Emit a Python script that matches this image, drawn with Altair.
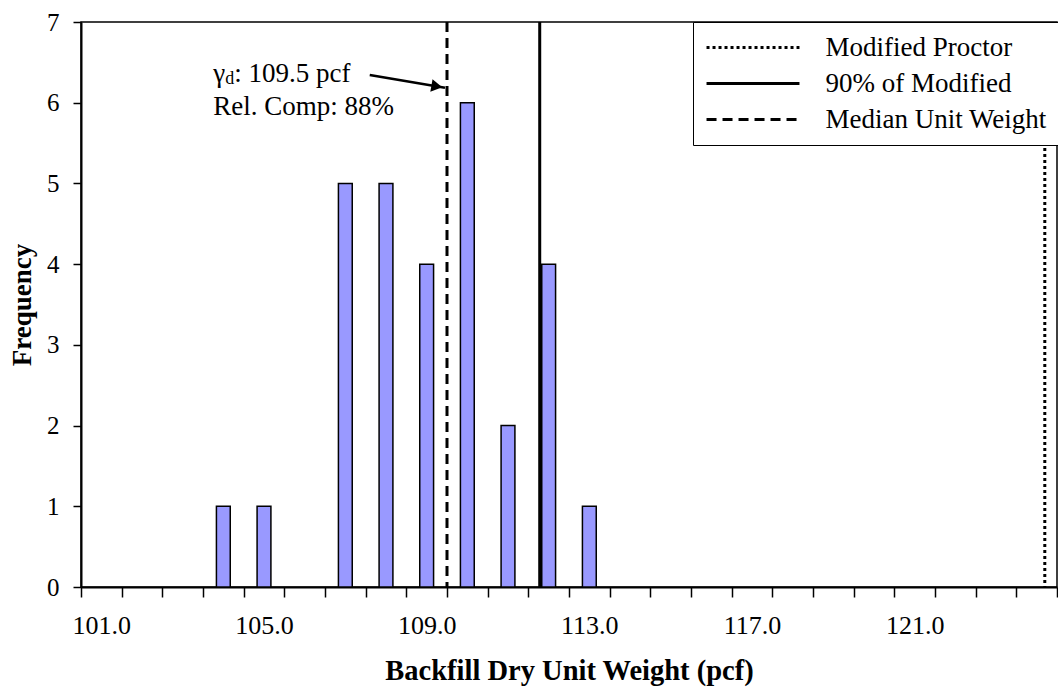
import altair as alt
import pandas as pd

# ---- data ----
bin_centers = [104, 105, 107, 108, 109, 110, 111, 112, 113]
frequencies = [1, 1, 5, 5, 4, 6, 2, 4, 1]
categories = list(range(101, 125))           # 24 category slots on the x axis
x_tick_labels = ["101.0", "105.0", "109.0", "113.0", "117.0", "121.0"]
y_ticks = [0, 1, 2, 3, 4, 5, 6, 7]

ref_names = ["Modified Proctor", "90% of Modified", "Median Unit Weight"]
ref_values = [124.2, 111.78, 109.5]

annot_x = [103.75, 103.75]
annot_y = [6.36, 5.95]
annot_text = [": 109.5 pcf", "Rel. Comp: 88%"]
arrow_x = [107.6, 109.45]
arrow_y = [6.343, 6.185]

FONT = "Liberation Serif"
W, H = 976, 565

bars_df = pd.DataFrame({"v": bin_centers, "f": frequencies})
refs_df = pd.DataFrame({"name": ref_names, "v": ref_values})
arrow_df = pd.DataFrame({"x": arrow_x, "y": arrow_y, "o": [0, 1]})

boundaries = [c - 0.5 for c in categories] + [categories[-1] + 0.5]
label_expr = " : ".join(
    [f"datum.value == {float(lab) - 0.5} ? '{lab}'" for lab in x_tick_labels]
) + " : ''"

xscale = alt.Scale(domain=[boundaries[0], boundaries[-1]], nice=False, zero=False)
yscale = alt.Scale(domain=[0, 7], nice=False)

band_px = W / len(categories)

x_axis = alt.Axis(
    values=boundaries, labelExpr=label_expr, labelOffset=band_px / 2,
    labelFlush=False, labelOverlap=False, tickSize=10, tickColor="black",
    tickWidth=1.5, domainColor="black", domainWidth=2, grid=False,
    labelFont=FONT, labelFontSize=26, labelColor="black", labelPadding=15,
    title="Backfill Dry Unit Weight (pcf)", titleFont=FONT, titleFontSize=28.5,
    titleFontWeight="bold", titleColor="black", titlePadding=18,
)
y_axis = alt.Axis(
    values=y_ticks, format="d", tickSize=8, tickColor="black", tickWidth=1.5,
    domainColor="black", domainWidth=2, grid=False, labelFont=FONT,
    labelFontSize=25, labelColor="black", labelPadding=14,
    title="Frequency", titleFont=FONT, titleFontSize=27,
    titleFontWeight="bold", titleColor="black", titlePadding=10,
)

bars = alt.Chart(bars_df).transform_calculate(
    lo="datum.v - 0.17", hi="datum.v + 0.17"
).mark_bar(fill="#9999FF", stroke="black", strokeWidth=1.5).encode(
    x=alt.X("lo:Q", scale=xscale, axis=x_axis),
    x2="hi:Q",
    y=alt.Y("f:Q", scale=yscale, axis=y_axis),
    y2=alt.Y2(datum=0),
)

rules = alt.Chart(refs_df).mark_rule(color="black", strokeWidth=3).encode(
    x=alt.X("v:Q", scale=xscale),
    strokeDash=alt.StrokeDash(
        "name:N",
        scale=alt.Scale(domain=ref_names, range=[[3, 3], [1, 0], [10, 6]]),
        sort=ref_names,
        legend=alt.Legend(
            title=None, orient="none", legendX=612, legendY=0,
            symbolType="M-4,0H4", symbolSize=540, symbolStrokeWidth=3,
            symbolStrokeColor="black", symbolOffset=34.5,
            labelFont=FONT, labelFontSize=27, labelColor="black",
            labelOffset=59, strokeColor="black",
            fillColor="white", padding=12, rowPadding=8, labelLimit=400,
        ),
    ),
)

gamma = alt.Chart(pd.DataFrame({"x": [annot_x[0]], "y": [annot_y[0]]})).mark_text(
    text="γ", align="left", baseline="middle", font=FONT, fontSize=27, color="black"
).encode(x=alt.X("x:Q", scale=xscale), y=alt.Y("y:Q", scale=yscale))

sub_d = alt.Chart(pd.DataFrame({"x": [annot_x[0]], "y": [annot_y[0]]})).mark_text(
    text="d", align="left", baseline="middle", font=FONT, fontSize=18,
    color="black", dx=12, dy=5
).encode(x=alt.X("x:Q", scale=xscale), y=alt.Y("y:Q", scale=yscale))

texts1 = alt.Chart(pd.DataFrame({"x": [annot_x[0]], "y": [annot_y[0]], "t": [annot_text[0]]})).mark_text(
    align="left", baseline="middle", font=FONT, fontSize=27, color="black", dx=21
).encode(x=alt.X("x:Q", scale=xscale), y=alt.Y("y:Q", scale=yscale), text="t:N")

texts2 = alt.Chart(pd.DataFrame({"x": [annot_x[1]], "y": [annot_y[1]], "t": [annot_text[1]]})).mark_text(
    align="left", baseline="middle", font=FONT, fontSize=27, color="black"
).encode(x=alt.X("x:Q", scale=xscale), y=alt.Y("y:Q", scale=yscale), text="t:N")

arrow_line = alt.Chart(arrow_df).mark_line(color="black", strokeWidth=2.5).encode(
    x=alt.X("x:Q", scale=xscale), y=alt.Y("y:Q", scale=yscale), order="o:Q"
)
arrow_head = alt.Chart(pd.DataFrame({"x": [arrow_x[1] - 0.2], "y": [arrow_y[1] + 0.017]})).mark_point(
    shape="triangle-right", filled=True, color="black", size=160, angle=10, opacity=1
).encode(x=alt.X("x:Q", scale=xscale), y=alt.Y("y:Q", scale=yscale))

chart = alt.layer(bars, rules, gamma, sub_d, texts1, texts2, arrow_line, arrow_head).properties(
    width=W, height=H,
    autosize=alt.AutoSizeParams(type="none"),
    padding={"left": 81, "top": 22, "right": 1, "bottom": 100},
    background="white",
).configure_view(stroke="black", strokeWidth=1.5)

chart.save("out.html", embed_options={"renderer": "svg", "actions": False})
